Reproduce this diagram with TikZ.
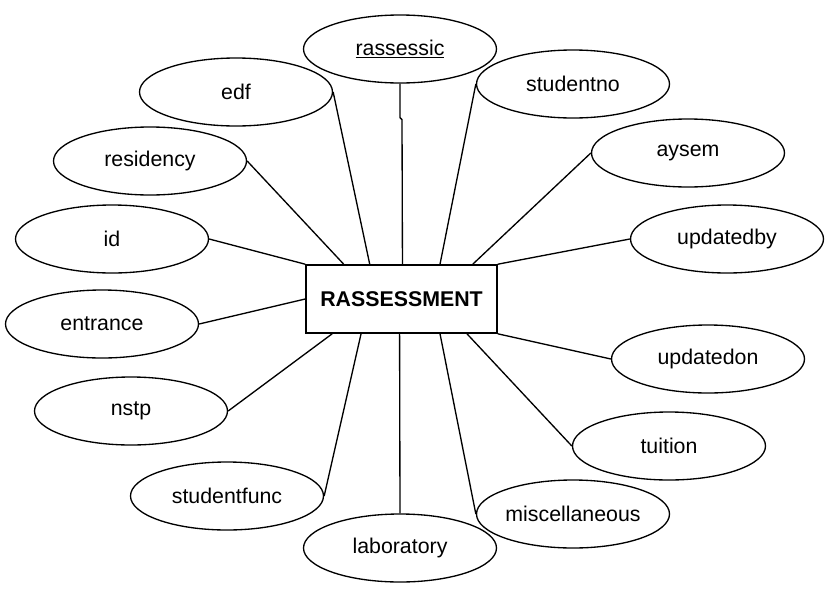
\documentclass[tikz,border=0pt]{standalone}
\usepackage{fontspec}
\setmainfont{Liberation Sans}
\usepackage{tikz}
\usetikzlibrary{shapes.geometric,calc}

\tikzset{
  attr/.style={draw,ellipse,line width=1pt,minimum width=144.75pt,minimum height=51pt,inner sep=0pt,font=\fontsize{16}{19}\selectfont},
  entitybox/.style={draw,rectangle,line width=1.2pt,minimum width=143.25pt,minimum height=51pt,inner sep=0pt,font=\fontsize{16}{19}\selectfont\bfseries},
  link/.style={line width=1pt}
}

\begin{document}
\begin{tikzpicture}[x=0.75pt,y=0.75pt,yscale=-1,xscale=1]
\useasboundingbox (0,0) rectangle (825,593);

        %Entity
        \node [entitybox] (ent) at (401.5,299) {RASSESSMENT};

        %Attributes
        \node [attr] (rassessic) at (400,49) {\underline{rassessic}};
        \node [attr] (edf) at (236,92) {edf};
        \node [attr] (studentno) at (573,84) {studentno};
        \node [attr] (residency) at (150,161) {residency};
        \node [attr] (aysem) at (688,153) {aysem};
        \node [attr] (id) at (112,239) {id};
        \node [attr] (updatedby) at (727,239) {updatedby};
        \node [attr] (entrance) at (102,324) {entrance};
        \node [attr] (updatedon) at (708,359) {updatedon};
        \node [attr] (nstp) at (131,411) {nstp};
        \node [attr] (tuition) at (669,446) {tuition};
        \node [attr] (studentfunc) at (227,496) {studentfunc};
        \node [attr] (miscellaneous) at (573,514) {miscellaneous};
        \node [attr] (laboratory) at (400,548) {laboratory};

        %Straight Lines (top)
        \draw [link] (rassessic.south) -- ++(0,34) -- ++(2,2) -- ($(ent.north west)!0.505!(ent.north east)$);
        \draw [link] (edf.east) -- ($(ent.north west)!0.335!(ent.north east)$);
        \draw [link] (residency.east) -- ($(ent.north west)!0.2!(ent.north east)$);
        \draw [link] (studentno.west) -- ($(ent.north west)!0.7!(ent.north east)$);
        \draw [link] (aysem.west) -- ($(ent.north west)!0.87!(ent.north east)$);
        %Straight Lines (sides)
        \draw [link] (id.east) -- (ent.north west);
        \draw [link] (entrance.east) -- (ent.west);
        \draw [link] (updatedby.west) -- (ent.north east);
        \draw [link] (updatedon.west) -- (ent.south east);
        %Straight Lines (bottom)
        \draw [link] (nstp.east) -- ($(ent.south west)!0.14!(ent.south east)$);
        \draw [link] (studentfunc.east) -- ($(ent.south west)!0.29!(ent.south east)$);
        \draw [link] (laboratory.north) -- ($(ent.south west)!0.49!(ent.south east)$);
        \draw [link] (miscellaneous.west) -- ($(ent.south west)!0.7!(ent.south east)$);
        \draw [link] (tuition.west) -- ($(ent.south west)!0.84!(ent.south east)$);
\end{tikzpicture}
\end{document}
